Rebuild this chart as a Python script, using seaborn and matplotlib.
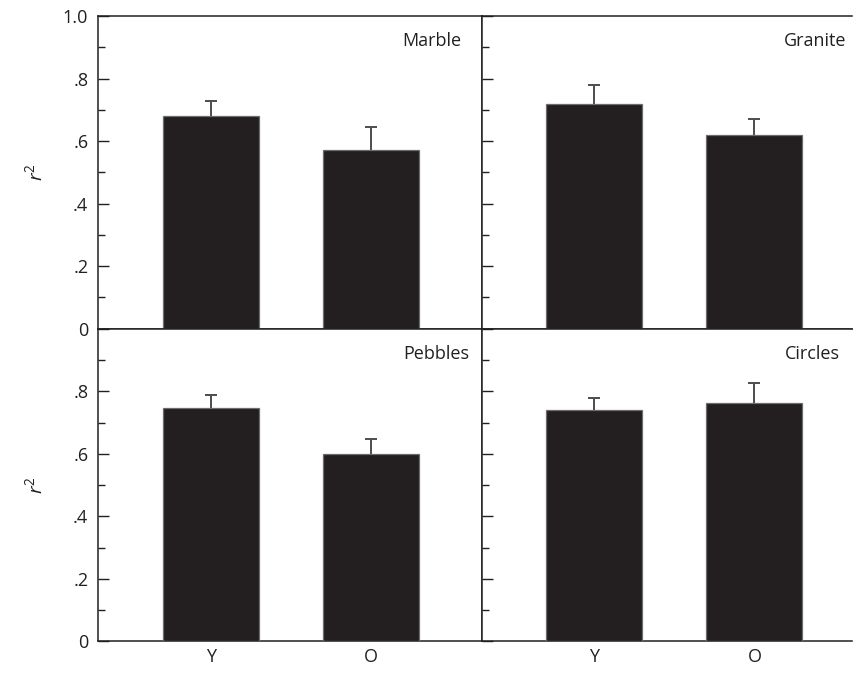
import numpy as np
import pandas as pd
import seaborn as sns
import matplotlib.pyplot as plt
from matplotlib.ticker import MultipleLocator, FixedLocator

groups = ["Y", "O"]
panels = ["Marble", "Granite", "Pebbles", "Circles"]

marble_mean = [0.679, 0.570]
marble_err = [0.050, 0.076]
granite_mean = [0.718, 0.618]
granite_err = [0.060, 0.053]
pebbles_mean = [0.746, 0.599]
pebbles_err = [0.042, 0.049]
circles_mean = [0.739, 0.763]
circles_err = [0.041, 0.064]

ytick_vals = [0, 0.2, 0.4, 0.6, 0.8, 1.0]
ytick_top = ["0", ".2", ".4", ".6", ".8", "1.0"]
ytick_bottom = ["0", ".2", ".4", ".6", ".8", ""]

means = {"Marble": marble_mean, "Granite": granite_mean,
         "Pebbles": pebbles_mean, "Circles": circles_mean}
errs = {"Marble": marble_err, "Granite": granite_err,
        "Pebbles": pebbles_err, "Circles": circles_err}

sns.set_style("white")
plt.rcParams["font.family"] = ["Open Sans", "DejaVu Sans"]
plt.rcParams["mathtext.fontset"] = "custom"
plt.rcParams["mathtext.it"] = "Open Sans:italic"
plt.rcParams["mathtext.rm"] = "Open Sans"

ink = "#231f20"
fs = 13

fig, axes = plt.subplots(2, 2, figsize=(8.54, 6.79), dpi=100,
                         gridspec_kw=dict(width_ratios=[384, 370], wspace=0, hspace=0))
fig.subplots_adjust(left=0.11475, right=0.99766, top=0.97644, bottom=0.05523)

# label x position (axes fraction) per panel
label_x = {"Marble": 0.945, "Granite": 0.986, "Pebbles": 0.966, "Circles": 0.967}

for i, name in enumerate(panels):
    row, col = divmod(i, 2)
    ax = axes[row, col]
    df = pd.DataFrame({"group": groups, "r2": means[name]})
    sns.barplot(data=df, x="group", y="r2", ax=ax, color=ink, saturation=1,
                width=0.6, edgecolor="#6d6d6d", linewidth=0.9)
    for p in ax.patches:
        p.set_zorder(3)
    _, caps, _ = ax.errorbar(x=np.arange(len(groups)), y=df["r2"],
                             yerr=[np.zeros(len(groups)), errs[name]],
                             fmt="none", ecolor="#4d4d4d", elinewidth=1.4,
                             capsize=4.6, capthick=1.4, zorder=2)
    caps[0].set_visible(False)  # no lower cap

    ax.set_ylim(0, 1.0)
    if col == 0:
        ax.set_xlim(-0.706, 1.694)
    else:
        ax.set_xlim(-0.702, 1.61)

    ax.yaxis.set_major_locator(FixedLocator(ytick_vals))
    ax.yaxis.set_minor_locator(MultipleLocator(0.1))
    ax.tick_params(axis="y", which="both", left=True, direction="in", width=1, color=ink)
    ax.tick_params(axis="y", which="major", length=8, labelsize=fs, labelcolor=ink, pad=7)
    ax.tick_params(axis="y", which="minor", length=5)
    ax.tick_params(axis="x", bottom=False, length=0, labelsize=fs, labelcolor=ink, pad=5)

    if col == 0:
        ax.set_yticklabels(ytick_top if row == 0 else ytick_bottom)
        ax.set_ylabel(r"$r^2$", fontsize=14, color=ink)
        ax.yaxis.set_label_coords(-0.135, 0.5)
    else:
        ax.set_yticklabels([])
        ax.set_ylabel("")

    if row == 1:
        ax.set_xticks(range(len(groups)))
        ax.set_xticklabels(groups)
    else:
        ax.set_xticklabels([])
    ax.set_xlabel("")

    for side, sp in ax.spines.items():
        sp.set_color(ink)
        sp.set_linewidth(1.1)
    ax.spines["right"].set_visible(col == 0)

    ax.text(label_x[name], 0.92, name, transform=ax.transAxes, ha="right",
            va="center", fontsize=fs, color=ink)

fig.savefig("out.png", dpi=100)
